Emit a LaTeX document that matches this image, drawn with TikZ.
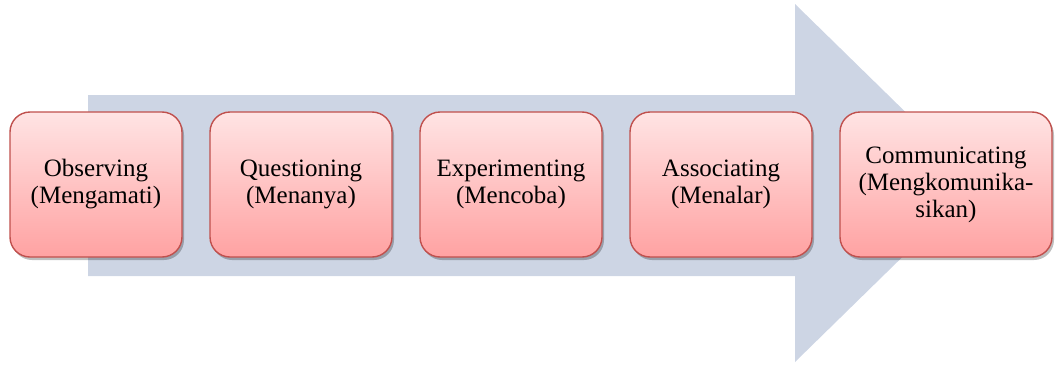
\documentclass[tikz,border=0pt]{standalone}
\usepackage{fontspec}
\setmainfont{Liberation Serif}
\usetikzlibrary{shadows}
\definecolor{arrowfill}{HTML}{CDD5E4}
\definecolor{boxedge}{HTML}{C0504D}
\definecolor{boxtop}{HTML}{FFE4E4}
\definecolor{boxbottom}{HTML}{FFA2A2}
\tikzset{
  stagebox/.style={
    draw=boxedge, line width=1.4pt, rounded corners=20pt,
    top color=boxtop, bottom color=boxbottom,
    minimum height=145pt, inner sep=2pt, align=center,
    font=\fontsize{25}{27}\selectfont,
    drop shadow={shadow xshift=2pt, shadow yshift=-3pt, opacity=0.25, fill=black}
  }
}
\begin{document}
\begin{tikzpicture}[x=1pt,y=-1pt]
  \useasboundingbox (0,0) rectangle (1056,364);
  % background process arrow
  \fill[arrowfill] (88,95) -- (795,95) -- (795,4) -- (978,183) -- (795,362)
    -- (795,276) -- (88,276) -- cycle;
  % stages
  \node[stagebox, minimum width=172pt] (b1) at (96,184.5) {Observing\\(Mengamati)};
  \node[stagebox, minimum width=182pt] (b2) at (301,184.5) {Questioning\\(Menanya)};
  \node[stagebox, minimum width=182pt] (b3) at (511,184.5) {Experimenting\\(Mencoba)};
  \node[stagebox, minimum width=182pt] (b4) at (721,184.5) {Associating\\(Menalar)};
  \node[stagebox, minimum width=212pt] (b5) at (946,184.5) {Communicating\\(Mengkomunika-\\sikan)};
\end{tikzpicture}
\end{document}
